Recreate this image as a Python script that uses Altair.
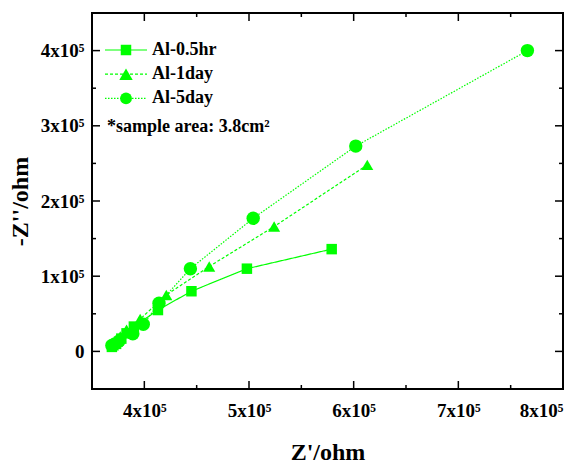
import altair as alt
import pandas as pd

series = ["Al-0.5hr", "Al-1day", "Al-5day"]
shapes = ["square", "triangle-up", "circle"]
sizes = [110, 180, 140]
dashes = [[1, 0], [3, 2], [1.5, 1.5]]

x_05hr = [369000, 373000, 378000, 383000, 390000, 413000, 445000, 498000, 579000]
y_05hr = [6000, 10000, 17000, 24000, 33000, 55000, 80000, 110000, 136000]
x_1day = [370000, 374000, 377000, 383000, 396000, 421000, 462000, 524000, 613000]
y_1day = [8000, 13000, 20000, 29000, 43000, 75000, 113000, 166000, 248000]
x_5day = [369000, 372000, 376000, 389000, 399000, 414000, 444000, 504000, 602000, 766000]
y_5day = [8000, 10000, 14000, 23500, 36000, 64000, 110000, 177000, 273000, 400000]

x_major = [400000, 500000, 600000, 700000, 800000]
x_minor = [450000, 550000, 650000, 750000]
y_major = [0, 100000, 200000, 300000, 400000]
y_minor = [50000, 150000, 250000, 350000]

note = "*sample area: 3.8cm\u00b2"

W, H = 471, 376
GREEN = "#00ff00"
FONT = "Liberation Serif"

rows = []
for name, xs, ys in [(series[0], x_05hr, y_05hr), (series[1], x_1day, y_1day), (series[2], x_5day, y_5day)]:
    for i, (a, b) in enumerate(zip(xs, ys)):
        rows.append({"series": name, "zr": a, "zi": b, "order": i})
df = pd.DataFrame(rows)

xscale = alt.Scale(domain=[350000, 800000], nice=False, zero=False)
yscale = alt.Scale(domain=[-50000, 450000], nice=False, zero=False)

xaxis = alt.Axis(
    title="Z'/ohm", values=x_major, ticks=False, domain=False, grid=False,
    labelExpr="datum.value/100000 + 'x10\u2075'", labelPadding=12,
    titleY=63, titleBaseline="middle",
)
yaxis = alt.Axis(
    title="-Z''/ohm", values=y_major, ticks=False, domain=False, grid=False,
    labelExpr="datum.value == 0 ? '0' : datum.value/100000 + 'x10\u2075'", labelPadding=8,
    titleX=-72, titleBaseline="middle", titleAngle=-90,
)

lines = alt.Chart(df).mark_line(color=GREEN, strokeWidth=1.2).encode(
    x=alt.X("zr:Q", scale=xscale, axis=xaxis),
    y=alt.Y("zi:Q", scale=yscale, axis=yaxis),
    strokeDash=alt.StrokeDash("series:N", scale=alt.Scale(domain=series, range=dashes), legend=None),
    detail="series:N",
    order="order:Q",
)

points = alt.Chart(df).mark_point(filled=True, opacity=1, color=GREEN).encode(
    x=alt.X("zr:Q", scale=xscale, axis=xaxis),
    y=alt.Y("zi:Q", scale=yscale, axis=yaxis),
    shape=alt.Shape("series:N", scale=alt.Scale(domain=series, range=shapes), legend=None),
    size=alt.Size("series:N", scale=alt.Scale(domain=series, range=sizes), legend=None),
)

def xticks(vals, length):
    d = pd.DataFrame({"zr": vals})
    base = alt.Chart(d).mark_rule(color="black", strokeWidth=1.5)
    bot = base.encode(x=alt.X("zr:Q", scale=xscale, axis=xaxis), y=alt.value(H), y2=alt.value(H - length))
    top = base.encode(x=alt.X("zr:Q", scale=xscale, axis=xaxis), y=alt.value(0), y2=alt.value(length))
    return [bot, top]

def yticks(vals, length):
    d = pd.DataFrame({"zi": vals})
    base = alt.Chart(d).mark_rule(color="black", strokeWidth=1.5)
    left = base.encode(y=alt.Y("zi:Q", scale=yscale, axis=yaxis), x=alt.value(0), x2=alt.value(length))
    right = base.encode(y=alt.Y("zi:Q", scale=yscale, axis=yaxis), x=alt.value(W), x2=alt.value(W - length))
    return [left, right]

tick_layers = xticks(x_major, 8) + xticks(x_minor, 4) + yticks(y_major, 8) + yticks(y_minor, 4)

legend_layers = []
for i, name in enumerate(series):
    yy = 37 + 24.2 * i
    ld = pd.DataFrame({"label": [name]})
    legend_layers.append(
        alt.Chart(ld).mark_rule(color=GREEN, strokeWidth=1.2, strokeDash=dashes[i]).encode(
            x=alt.value(13), x2=alt.value(55), y=alt.value(yy)
        )
    )
    legend_layers.append(
        alt.Chart(ld).mark_point(filled=True, opacity=1, color=GREEN, shape=shapes[i], size=sizes[i]).encode(
            x=alt.value(34), y=alt.value(yy)
        )
    )
    legend_layers.append(
        alt.Chart(ld).mark_text(align="left", baseline="middle", font=FONT, fontWeight="bold",
                                fontSize=18, color="black").encode(
            x=alt.value(60), y=alt.value(yy), text="label:N"
        )
    )
legend_layers.append(
    alt.Chart(pd.DataFrame({"label": [note]})).mark_text(
        align="left", baseline="alphabetic", font=FONT, fontWeight="bold", fontSize=18, color="black"
    ).encode(x=alt.value(15), y=alt.value(118.5), text="label:N")
)

chart = alt.layer(lines, points, *tick_layers, *legend_layers).properties(
    width=W, height=H,
    autosize=alt.AutoSizeParams(type="none"),
    padding={"left": 84, "top": 5, "right": 15, "bottom": 74},
).configure_view(
    stroke="black", strokeWidth=2
).configure_axis(
    labelFont=FONT, labelFontWeight="bold", labelFontSize=19, labelColor="black",
    titleFont=FONT, titleFontWeight="bold", titleFontSize=24, titleColor="black",
)

chart.save("out.html", embed_options={"renderer": "svg", "actions": False})
